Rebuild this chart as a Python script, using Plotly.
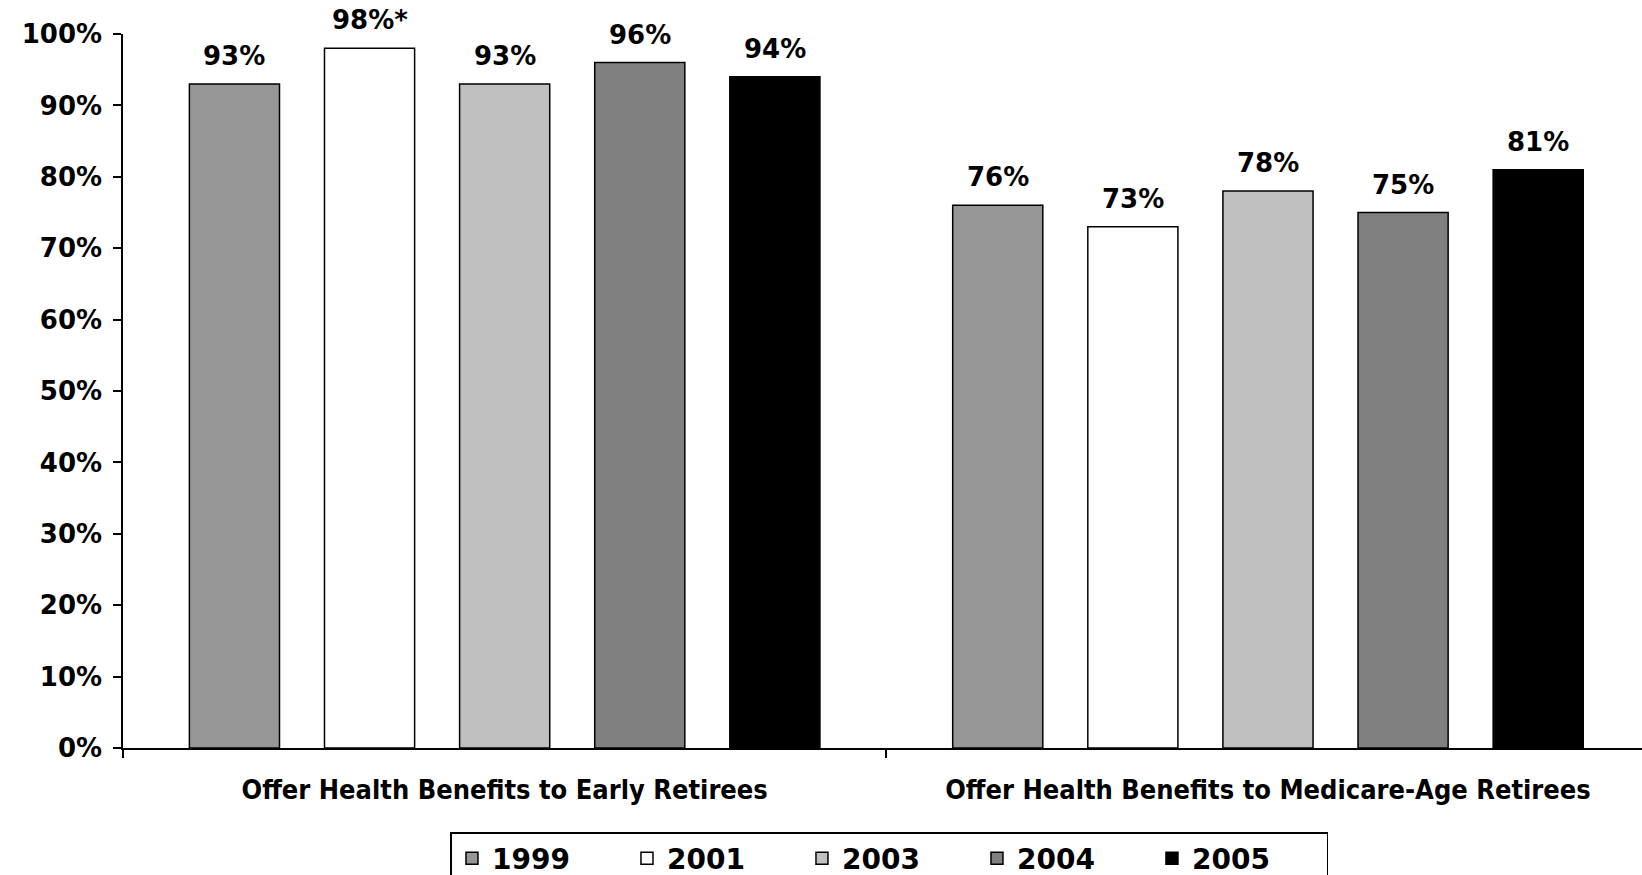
import plotly.graph_objects as go

# Share of firms offering retiree health benefits, by survey year
categories = ["Offer Health Benefits to Early Retirees",
              "Offer Health Benefits to Medicare-Age Retirees"]
years = ["1999", "2001", "2003", "2004", "2005"]
values = {
    "1999": [93, 76],
    "2001": [98, 73],
    "2003": [93, 78],
    "2004": [96, 75],
    "2005": [94, 81],
}
# footnote markers appended to specific value labels
footnotes = {
    "2001": ["*", ""],
}
colors = {
    "1999": "#969696",
    "2001": "#ffffff",
    "2003": "#c0c0c0",
    "2004": "#808080",
    "2005": "#000000",
}
y_ticks = [i / 10 for i in range(11)]

BARGAP = 0.115
GROUPGAP = 0.333
LABEL_FONT = dict(family="DejaVu Sans", size=26, color="black")

fig = go.Figure()
xpos = list(range(len(categories)))
for y in years:
    fig.add_trace(go.Bar(
        name=y,
        x=xpos,
        y=[v / 100 for v in values[y]],
        marker=dict(color=colors[y], line=dict(color="black", width=1.5)),
        hoverinfo="skip",
    ))

# value labels above each bar, placed at the bar's slot within its group
slot = (1 - BARGAP) / len(years)
annotations = []
for j, y in enumerate(years):
    marks = footnotes.get(y, [""] * len(categories))
    for i, v in enumerate(values[y]):
        annotations.append(dict(
            x=i + (j - (len(years) - 1) / 2) * slot,
            y=v / 100,
            xref="x", yref="y",
            text=f"<b>{v}%{marks[i]}</b>",
            showarrow=False,
            yanchor="bottom",
            yshift=11,
            font=LABEL_FONT,
        ))

fig.update_layout(
    width=1642, height=875,
    margin=dict(l=123, r=0, t=34, b=127),
    paper_bgcolor="white", plot_bgcolor="white",
    barmode="group", bargap=BARGAP, bargroupgap=GROUPGAP,
    font=dict(family="DejaVu Sans", color="black"),
    annotations=annotations,
    showlegend=True,
    legend=dict(
        orientation="h",
        xref="container", yref="container",
        x=0.5417, xanchor="center",
        y=1 - 832 / 875, yanchor="top",
        bordercolor="black", borderwidth=1.5,
        font=dict(family="DejaVu Sans", size=28, color="black", weight="bold"),
        itemwidth=30,
        entrywidth=130,
        traceorder="normal",
    ),
)

fig.update_yaxes(
    range=[0, 1],
    tickvals=y_ticks,
    tickformat=".0%",
    showline=True, linecolor="black", linewidth=1.5,
    ticks="outside", ticklen=8, tickcolor="black", tickwidth=1.5,
    showgrid=False, zeroline=False,
    tickfont=dict(family="DejaVu Sans", size=26, color="black", weight="bold"),
    ticklabelstandoff=6,
)

fig.update_xaxes(
    type="linear",
    range=[-0.5, 1.49],
    tickvals=xpos,
    ticktext=categories,
    ticks="",
    showline=True, linecolor="black", linewidth=1.5,
    showgrid=False, zeroline=False,
    tickfont=dict(family="DejaVu Sans Condensed, DejaVu Sans", size=27,
                  color="black", weight="bold"),
    ticklabelstandoff=17,
    minor=dict(tickvals=[-0.5, 0.5, 1.5], ticks="outside", ticklen=8,
               tickcolor="black", tickwidth=1.5),
)

fig.write_html("out.html")
